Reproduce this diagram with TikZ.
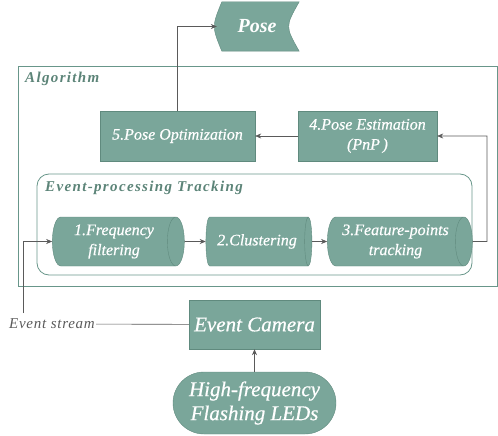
\documentclass[tikz,border=0pt]{standalone}
\usepackage{fontspec}
\setmainfont{Liberation Serif}
\newfontfamily\boxfont{Liberation Serif}[FakeBold=0.6]
\newfontfamily\spacedfont{Liberation Serif}[LetterSpace=9]
\newfontfamily\streamfont{Liberation Serif}[LetterSpace=5]
\usetikzlibrary{shapes.geometric,arrows.meta}
\definecolor{boxfill}{RGB}{122,166,154}
\definecolor{boxline}{RGB}{96,138,126}
\definecolor{framegreen}{RGB}{104,150,138}
\definecolor{labelgreen}{RGB}{92,132,120}
\definecolor{linegrey}{RGB}{90,90,90}
\begin{document}
\begin{tikzpicture}[x=1pt,y=-1pt,
    >={Stealth[length=6pt,width=5pt]},
    every edge/.style={draw,linegrey,line width=0.6pt}]

      \useasboundingbox (0,0) rectangle (498,436);

      % frames
      \draw[framegreen,line width=0.8pt] (18,66) rectangle (497,286);
      \draw[framegreen,line width=0.8pt,rounded corners=12pt] (37,174) rectangle (472,275);
      \node[anchor=west,labelgreen,inner sep=0pt,font=\spacedfont\fontsize{15}{17}\selectfont\bfseries\itshape] (alg) at (25,79) {Algorithm};
      \node[anchor=west,labelgreen,inner sep=0pt,font=\spacedfont\fontsize{15}{17}\selectfont\bfseries\itshape] (ept) at (45,188) {Event-processing Tracking};

      \begin{scope}[every node/.style={fill=boxfill,draw=boxline,text=white,align=center,
          inner sep=0pt,font=\boxfont\fontsize{16}{20}\selectfont\itshape}]
        \node[cylinder,aspect=0.5,minimum width=49pt,minimum height=132pt] (1) at (114,241.5) {1.Frequency\\filtering};
        \node[cylinder,aspect=0.5,minimum width=49pt,minimum height=106pt] (2) at (257,241.5) {2.Clustering};
        \node[cylinder,aspect=0.5,minimum width=49pt,minimum height=145pt] (3) at (395.5,241.5) {3.Feature-points\\tracking};
        \node[rectangle,minimum width=139pt,minimum height=50pt] (4) at (367.5,136) {4.Pose Estimation\\(PnP\,)};
        \node[rectangle,minimum width=155pt,minimum height=50pt] (5) at (177.5,136) {5.Pose Optimization};
        \node[rectangle,minimum width=131pt,minimum height=49pt,font=\boxfont\fontsize{21}{24}\selectfont\itshape] (cam) at (254.5,324.5) {Event Camera};
        \node[rectangle,rounded corners=31pt,minimum width=163pt,minimum height=62pt,
          font=\boxfont\fontsize{21}{24}\selectfont\itshape] (led) at (254.5,403) {High-frequency\\Flashing LEDs};
      \end{scope}

      % stored data shape
      \node[minimum width=82pt,minimum height=49pt,inner sep=0pt] (pose) at (258,26.5) {};
      \filldraw[fill=boxfill,draw=boxline] ([xshift=5pt]pose.north west)
        .. controls ([xshift=-5pt]pose.west) .. ([xshift=5pt]pose.south west)
        -- (pose.south east) .. controls ([xshift=-14pt]pose.east) .. (pose.north east) -- cycle;
      \node[text=white,font=\fontsize{20}{22}\selectfont\bfseries\itshape] (posetext) at ([xshift=-1pt]pose.center) {Pose};

      \node[text=linegrey,font=\streamfont\fontsize{15}{17}\selectfont\itshape,inner sep=1pt] (stream) at (52,324) {Event stream};
      \coordinate (tap) at (23,313);
      \coordinate (turn) at (487,241.5);

      \path (1)  edge[->] (2);
      \path (2)  edge[->] (3);
      \path (4)  edge[->] (5);
      \path (led) edge[->] (cam);
      \path (stream) edge (cam);
      \draw[->,linegrey,line width=0.6pt] (tap) |- (1.west);
      \draw[->,linegrey,line width=0.6pt] (3.east) -- (turn) |- (4.east);
      \draw[->,linegrey,line width=0.6pt] (5.north) |- (pose.west);

    \end{tikzpicture}
\end{document}
